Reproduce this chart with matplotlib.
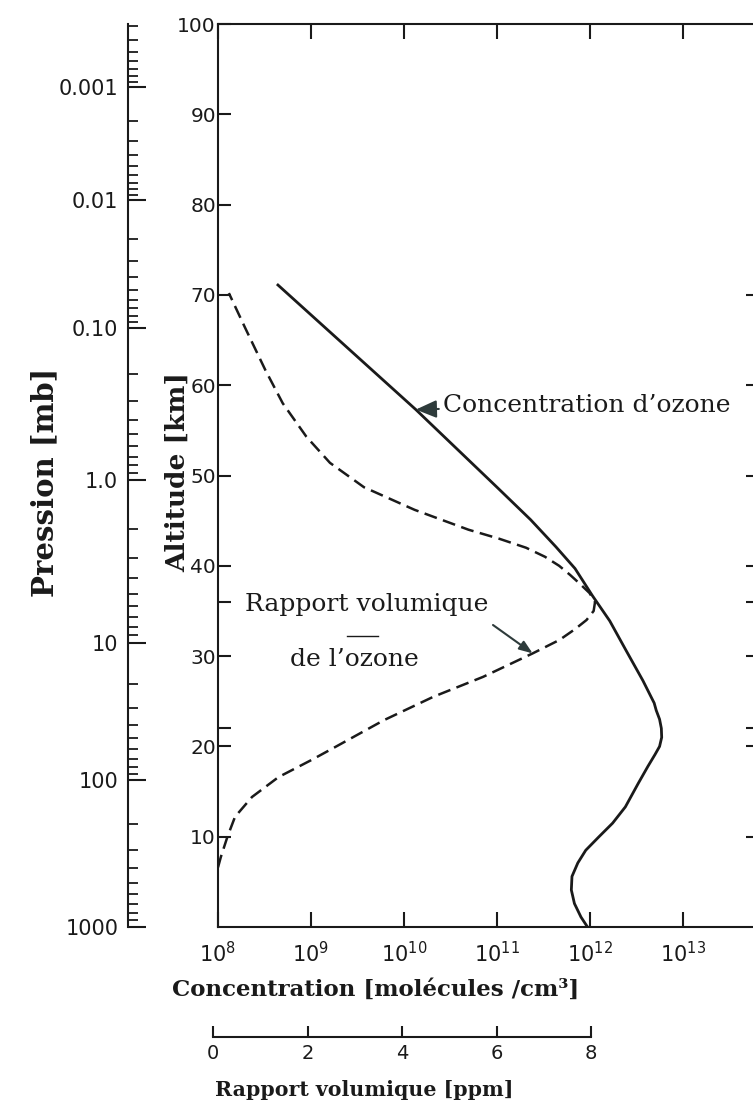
import numpy as np
import matplotlib
matplotlib.use("Agg")
import matplotlib.pyplot as plt
from matplotlib.ticker import FixedLocator, NullLocator, FixedFormatter

# ozone number density [molecules/cm3] against altitude [km]
alt_conc = [0.0, 1.1, 2.6, 4.1, 5.6, 7.1, 8.5, 10.0, 11.5, 13.3, 15.9, 17.8, 19.1, 20.0,
            21.0, 22.0, 23.0, 24.0, 24.8, 27.3, 30.6, 33.9, 36.7, 39.7, 42.1, 45.1, 48.7,
            57.3, 71.2]
conc = [9.4e11, 8.0e11, 6.8e11, 6.3e11, 6.4e11, 7.4e11, 9.0e11, 1.25e12, 1.75e12, 2.4e12,
        3.3e12, 4.2e12, 5.0e12, 5.6e12, 5.9e12, 5.85e12, 5.6e12, 5.15e12, 4.9e12, 3.7e12,
        2.45e12, 1.63e12, 1.06e12, 6.9e11, 4.3e11, 2.3e11, 1.0e11, 1.34e10, 4.3e8]

# ozone volume mixing ratio [ppm] against altitude [km]
alt_vmr = [6.6, 7.75, 10.0, 12.2, 14.4, 16.6, 18.5, 19.9, 22.9, 25.5, 27.7, 30.3, 31.8,
           33.0, 34.0, 35.0, 36.0, 37.0, 38.0, 39.0, 40.0, 41.0, 42.0, 43.0, 44.0, 46.2,
           48.7, 51.4, 54.3, 58.0, 61.7, 66.4, 70.2]
vmr = [0.0, 0.06, 0.20, 0.36, 0.72, 1.28, 1.98, 2.47, 3.51, 4.56, 5.61, 6.66, 7.23,
       7.56, 7.80, 7.95, 7.98, 7.86, 7.66, 7.45, 7.22, 6.92, 6.52, 5.95, 5.30, 4.16,
       3.09, 2.37, 1.87, 1.37, 1.00, 0.57, 0.23]

conc_ticks = [1e8, 1e9, 1e10, 1e11, 1e12, 1e13]
conc_labels = [r"$\mathregular{10^{%d}}$" % e for e in range(8, 14)]
alt_ticks = [10, 20, 30, 40, 50, 60, 70, 80, 90, 100]
alt_marks = [22, 36]          # extra marks at the two maxima
right_marks = [10, 20, 22, 30, 36, 40, 50, 60, 70]
ppm_ticks = [0, 2, 4, 6, 8]

# pressure scale read against altitude
press_vals = [0.0001, 0.001, 0.01, 0.1, 1.0, 10, 100, 1000]
press_alt = [106.0, 93.0, 80.5, 66.3, 49.5, 31.5, 16.3, 0.0]
press_labels = ["", "0.001", "0.01", "0.10", "1.0", "10", "100", "1000"]

INK = "#1a1a1a"
ARROW = "#2e3b3b"
SERIF = "DejaVu Serif"
SANS = "DejaVu Sans"

W, H = 753, 1112
plt.rcParams["font.family"] = SANS
plt.rcParams["mathtext.default"] = "regular"


def fx(px):
    return px / W


def fy(py):
    return 1 - py / H


fig = plt.figure(figsize=(W / 100, H / 100), dpi=100)
fig.patch.set_facecolor("white")

# main axes; its right spine falls just outside the scanned page
x0, y_bot, y_top, width = 218, 927, 24, 540
decade_px = 93.0
ppm_px = 47.25
rect = [fx(x0), fy(y_bot), width / W, (y_bot - y_top) / H]
ax = fig.add_axes(rect)
ax.set_xscale("log")
ax.set_xlim(1e8, 10 ** (8 + width / decade_px))
ax.set_ylim(0, 100)
ax.plot(conc, alt_conc, color=INK, lw=2.0, solid_capstyle="butt")

for s in ax.spines.values():
    s.set_linewidth(1.5)
    s.set_color(INK)

ax.xaxis.set_major_locator(FixedLocator(conc_ticks))
ax.xaxis.set_major_formatter(FixedFormatter(conc_labels))
ax.xaxis.set_minor_locator(NullLocator())
ax.yaxis.set_major_locator(FixedLocator(alt_ticks))
ax.yaxis.set_minor_locator(FixedLocator(alt_marks))
ax.tick_params(axis="x", which="major", direction="in", top=True, length=11, width=1.5,
               color=INK, labelsize=15, pad=10, labelcolor=INK)
ax.tick_params(axis="y", which="both", direction="in", right=False, length=9, width=1.5,
               color=INK, labelsize=14.5, pad=1.5, labelcolor=INK)

# marks along the right edge
axr = fig.add_axes(rect, facecolor="none")
axr.set_ylim(0, 100)
axr.set_xticks([])
for s in axr.spines.values():
    s.set_visible(False)
axr.yaxis.tick_right()
axr.set_yticks(right_marks)
axr.tick_params(axis="y", direction="in", length=9, width=1.5, color=INK,
                labelright=False)

# mixing ratio drawn on its own linear scale, same frame
axv = fig.add_axes(rect, facecolor="none")
axv.set_xlim(0, width / ppm_px)
axv.set_ylim(0, 100)
axv.axis("off")
axv.plot(vmr, alt_vmr, color=INK, lw=1.8, dashes=(5.2, 2.6))

# pressure axis
axp = fig.add_axes([fx(128), fy(y_bot), 0.02, (y_bot - y_top) / H])
axp.patch.set_visible(False)
for k in ("top", "right", "bottom"):
    axp.spines[k].set_visible(False)
axp.spines["left"].set_linewidth(1.5)
axp.spines["left"].set_color(INK)
axp.set_xticks([])
axp.set_ylim(0, 100)
lp = np.log10(press_vals)
major_pos = [a for a in press_alt if a <= 100]
major_lab = [l for a, l in zip(press_alt, press_labels) if a <= 100]
minor_pos = []
for k in range(-4, 3):
    for m in range(2, 10):
        a = float(np.interp(np.log10(m * 10.0 ** k), lp, press_alt))
        if 0 <= a <= 100.2:
            minor_pos.append(a)
axp.yaxis.set_major_locator(FixedLocator(major_pos))
axp.yaxis.set_major_formatter(FixedFormatter(major_lab))
axp.yaxis.set_minor_locator(FixedLocator(minor_pos))
axp.tick_params(axis="y", which="major", direction="in", length=13, width=1.5,
                color=INK, labelsize=15, pad=7, labelcolor=INK)
axp.tick_params(axis="y", which="minor", direction="in", length=7, width=1.3, color=INK)

# ppm scale under the chart
axs = fig.add_axes([fx(213), fy(1037), 378 / W, 0.0001])
axs.patch.set_visible(False)
for k in ("top", "right", "left"):
    axs.spines[k].set_visible(False)
axs.spines["bottom"].set_linewidth(1.5)
axs.spines["bottom"].set_color(INK)
axs.set_yticks([])
axs.set_xlim(0, 8)
axs.set_xticks(ppm_ticks)
axs.tick_params(axis="x", direction="in", length=8, width=1.5, color=INK,
                labelsize=14, pad=5, labelcolor=INK)

# axis titles
fig.text(fx(45), fy(482), "Pression [mb]", rotation=90, ha="center", va="center",
         fontsize=21, fontweight="bold", family=SERIF, color=INK)
fig.text(fx(177), fy(472), "Altitude [km]", rotation=90, ha="center", va="center",
         fontsize=19, fontweight="bold", family=SERIF, color=INK)
fig.text(fx(376), fy(990), "Concentration [molécules /cm³]", ha="center", va="center",
         fontsize=16.5, fontweight="bold", family=SERIF, color=INK)
fig.text(fx(364), fy(1090), "Rapport volumique [ppm]", ha="center", va="center",
         fontsize=14.8, fontweight="bold", family=SERIF, color=INK)

# annotations
i_c = alt_conc.index(57.3)
ax.annotate("Concentration d’ozone", xy=(conc[i_c], alt_conc[i_c]),
            xytext=((443 - x0) / width, (y_bot - 405) / (y_bot - y_top)),
            textcoords="axes fraction", ha="left", va="center", fontsize=18,
            family=SERIF, color=INK,
            arrowprops=dict(arrowstyle="-|>,head_length=0.7,head_width=0.3",
                            color=ARROW, lw=1.5, shrinkA=1, shrinkB=0))

ax.text((245 - x0) / width, (y_bot - 605) / (y_bot - y_top), "Rapport volumique",
        transform=ax.transAxes, ha="left", va="center", fontsize=18, family=SERIF,
        color=INK)
ax.text((290 - x0) / width, (y_bot - 660) / (y_bot - y_top), "de l’ozone",
        transform=ax.transAxes, ha="left", va="center", fontsize=18, family=SERIF,
        color=INK)
ax.plot([(347 - x0) / width, (378 - x0) / width],
        [(y_bot - 636) / (y_bot - y_top)] * 2, transform=ax.transAxes,
        color=INK, lw=1.0)
i_v = alt_vmr.index(30.3)
axv.annotate("", xy=(vmr[i_v], alt_vmr[i_v]),
             xytext=((493 - x0) / width, (y_bot - 625) / (y_bot - y_top)),
             textcoords="axes fraction",
             arrowprops=dict(arrowstyle="-|>,head_length=0.8,head_width=0.3",
                             color=ARROW, lw=1.5, shrinkA=0, shrinkB=0))

fig.savefig("out.png", dpi=100)
